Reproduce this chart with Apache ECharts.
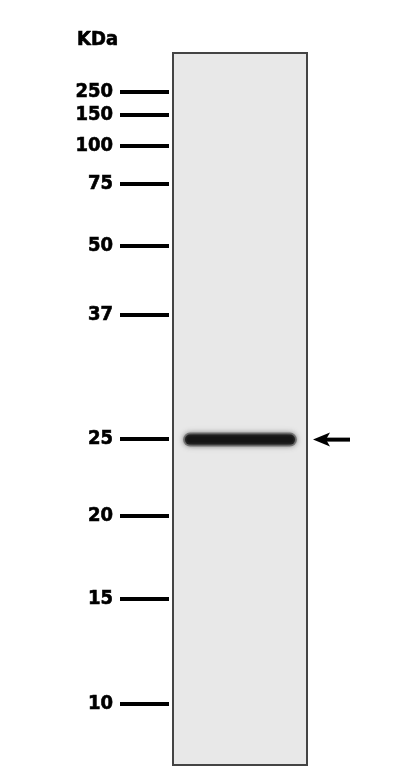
<!DOCTYPE html>
<html>
<head>
<meta charset="utf-8">
<script src="https://cdn.jsdelivr.net/npm/echarts@6/dist/echarts.min.js"></script>
<style>
html,body{margin:0;padding:0;background:#fff;}
#chart{width:410px;height:776px;}
</style>
</head>
<body>
<div id="chart"></div>
<script>
// Marker ladder (kDa) and their migration positions (% of lane height from top)
const markerMW = [250, 150, 100, 75, 50, 37, 25, 20, 15, 10];
const markerPos = [5.41, 8.71, 12.99, 18.33, 27.11, 36.80, 54.21, 65.03, 76.69, 91.43];
// Lanes and detected bands: [lane, migration position, intensity]
const lanes = ['Lane 1'];
const bands = [['Lane 1', 54.3, 1.0]];
const arrowTarget = [['Lane 1', 54.3]];

const chart = echarts.init(document.getElementById('chart'));
const FONT = 'DejaVu Sans Condensed';

function labelFor(v) {
  let best = 0, d = Infinity;
  markerPos.forEach((p, i) => { const dd = Math.abs(p - v); if (dd < d) { d = dd; best = i; } });
  return d < 0.5 ? String(markerMW[best]) : '';
}

chart.setOption({
  animation: false,
  backgroundColor: '#ffffff',
  title: {
    text: 'KDa', left: 72, top: 25,
    textStyle: { fontFamily: FONT, fontWeight: 'bold', fontSize: 20, color: '#000',
      textBorderColor: '#000', textBorderWidth: 0.6 }
  },
  grid: {
    left: 173, top: 53, width: 134, height: 712,
    show: true, backgroundColor: '#e8e8e8', borderColor: '#444', borderWidth: 2
  },
  xAxis: {
    type: 'category', data: lanes, show: false
  },
  yAxis: {
    type: 'value', inverse: true, min: 0, max: 100, offset: 4,
    axisLine: { show: false },
    splitLine: { show: false },
    axisTick: {
      show: true, customValues: markerPos, length: 49, inside: false,
      lineStyle: { color: '#000', width: 4 }
    },
    axisLabel: {
      customValues: markerPos, margin: 56,
      formatter: labelFor,
      fontFamily: FONT, fontWeight: 'bold', fontSize: 20, color: '#000',
      textBorderColor: '#000', textBorderWidth: 0.6
    }
  },
  series: [
    {
      type: 'custom', name: 'band', clip: false,
      data: bands,
      renderItem: function (params, api) {
        const c = api.coord([api.value(0), api.value(1)]);
        const w = api.size([1, 0])[0];
        const k = api.value(2);
        const bw = w * 0.85;
        const x0 = c[0] - bw / 2;
        return {
          type: 'group',
          children: [
            { type: 'rect', shape: { x: x0, y: c[1] - 7, width: bw, height: 14, r: 7 },
              style: { fill: 'rgba(70,70,70,' + (0.5 * k) + ')', shadowBlur: 6, shadowColor: 'rgba(70,70,70,0.6)' } },
            { type: 'rect', shape: { x: x0 + 2, y: c[1] - 5, width: bw - 4, height: 10, r: 5 },
              style: { fill: 'rgba(30,30,30,' + (0.92 * k) + ')', shadowBlur: 5, shadowColor: 'rgba(30,30,30,0.9)' } },
            { type: 'rect', shape: { x: x0 + 4, y: c[1] - 3, width: bw - 8, height: 6, r: 3 },
              style: { fill: 'rgba(20,20,20,' + (0.9 * k) + ')', shadowBlur: 3, shadowColor: 'rgba(20,20,20,0.8)' } }
          ]
        };
      }
    },
    {
      type: 'custom', name: 'arrow', clip: false,
      data: arrowTarget,
      renderItem: function (params, api) {
        const c = api.coord([api.value(0), api.value(1)]);
        const w = api.size([1, 0])[0];
        const tip = c[0] + w / 2 + 6;
        const y = c[1];
        return {
          type: 'group',
          children: [
            { type: 'rect', shape: { x: tip + 10, y: y - 2, width: 27, height: 4 }, style: { fill: '#000' } },
            { type: 'polygon', shape: { points: [[tip, y], [tip + 17, y - 7], [tip + 13, y], [tip + 17, y + 7]] },
              style: { fill: '#000' } }
          ]
        };
      }
    }
  ]
});
</script>
</body>
</html>
